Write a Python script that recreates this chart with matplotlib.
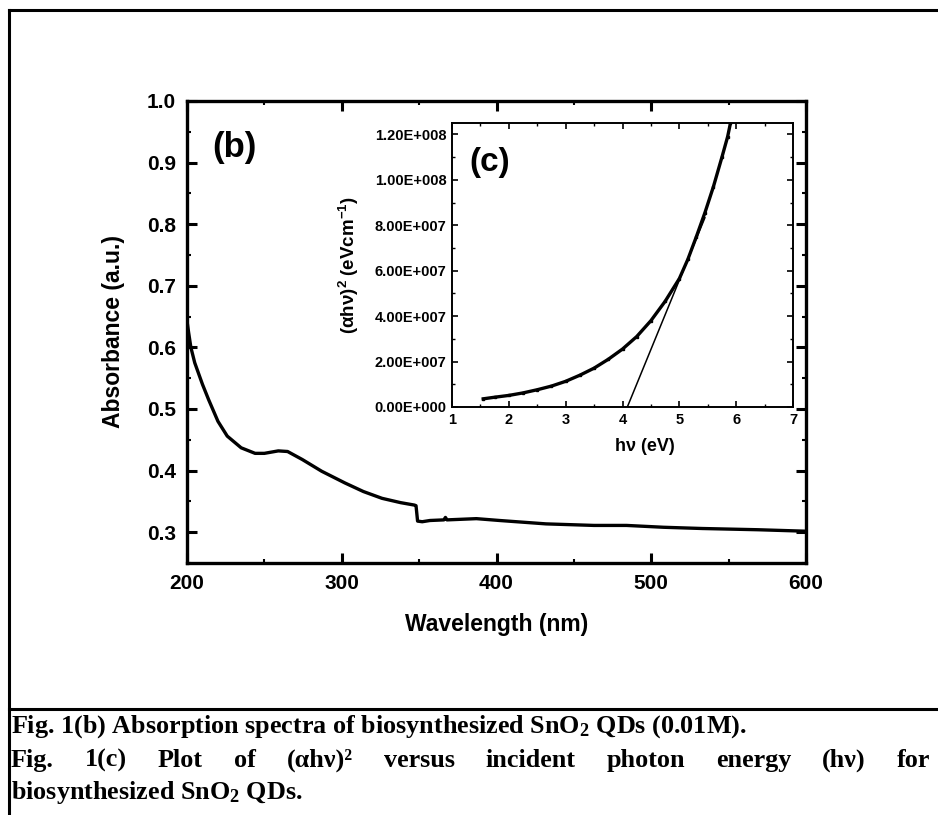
import matplotlib
matplotlib.use("Agg")
import matplotlib.pyplot as plt
from matplotlib.lines import Line2D
from matplotlib.ticker import MultipleLocator, FuncFormatter

plt.rcParams['font.family'] = ['Liberation Sans', 'DejaVu Sans']
plt.rcParams['font.weight'] = 'bold'
plt.rcParams['mathtext.fontset'] = 'custom'
plt.rcParams['mathtext.rm'] = 'Liberation Serif:bold'
plt.rcParams['mathtext.bf'] = 'Liberation Serif:bold'
plt.rcParams['mathtext.it'] = 'Liberation Serif:bold:italic'
plt.rcParams['mathtext.sf'] = 'Liberation Sans:bold'
plt.rcParams['mathtext.default'] = 'rm'

# absorption spectrum (b)
wavelength = [200, 201, 202.5, 205, 210, 214, 220, 226, 235, 244, 250, 259, 265,
              274.5, 287, 302, 314, 326, 338, 347, 348, 349, 352, 357, 366, 367,
              368, 387, 402, 432, 463, 484, 508, 533, 569, 600]
absorbance = [0.643, 0.625, 0.600, 0.575, 0.540, 0.515, 0.480, 0.456, 0.437, 0.428,
              0.428, 0.432, 0.431, 0.418, 0.399, 0.380, 0.366, 0.355, 0.348, 0.344,
              0.343, 0.318, 0.317, 0.319, 0.320, 0.324, 0.320, 0.322, 0.319, 0.3135,
              0.311, 0.311, 0.308, 0.306, 0.304, 0.3016]

# Tauc plot (c)
hv = [1.55, 1.75, 2.0, 2.25, 2.5, 2.75, 3.0, 3.25, 3.5, 3.75, 4.0, 4.25, 4.5,
      4.75, 5.0, 5.15, 5.3, 5.45, 5.6, 5.75, 5.85, 5.9]
ahv2 = [3.6e6, 4.3e6, 5.1e6, 6.2e6, 7.6e6, 9.2e6, 1.13e7, 1.40e7, 1.71e7, 2.10e7,
        2.55e7, 3.10e7, 3.80e7, 4.65e7, 5.65e7, 6.5e7, 7.5e7, 8.55e7, 9.7e7,
        1.10e8, 1.19e8, 1.25e8]
fit_hv = [4.085, 5.45]
fit_y = [0.0, 8.33e7]

caption1 = r"Fig. 1(b) Absorption spectra of biosynthesized SnO$_{2}$ QDs (0.01M)."
caption2 = ["Fig.", "1(c)", "Plot", "of", "(αhν)²", "versus", "incident",
            "photon", "energy", "(hν)", "for"]
caption3 = r"biosynthesized SnO$_{2}$ QDs."

W, H = 938, 815
fig = plt.figure(figsize=(W / 100, H / 100), dpi=100)

# page frame
fig.add_artist(Line2D([9 / W, 1], [1 - 10 / H, 1 - 10 / H], color='black', lw=2.2,
                      transform=fig.transFigure))
fig.add_artist(Line2D([9 / W, 9 / W], [0, 1 - 10 / H], color='black', lw=2.2,
                      transform=fig.transFigure))
fig.add_artist(Line2D([9 / W, 1], [1 - 709 / H, 1 - 709 / H], color='black', lw=2.2,
                      transform=fig.transFigure))

# main panel
ax = fig.add_axes([187 / W, 1 - 563 / H, (806 - 187) / W, (563 - 101) / H])
ax.plot(wavelength, absorbance, color='black', lw=2.4)
ax.set_xlim(200, 600)
ax.set_ylim(0.25, 1.0)
ax.xaxis.set_major_locator(MultipleLocator(100))
ax.xaxis.set_minor_locator(MultipleLocator(50))
ax.yaxis.set_minor_locator(MultipleLocator(0.05))
ax.set_yticks([0.3, 0.4, 0.5, 0.6, 0.7, 0.8, 0.9, 1.0])
ax.yaxis.set_major_formatter(FuncFormatter(lambda v, p: f"{v:.1f}"))
for s in ax.spines.values():
    s.set_linewidth(2.4)
ax.tick_params(which='both', direction='in', top=True, right=True)
ax.tick_params(which='major', length=7, width=2.2, labelsize=15, pad=8)
ax.tick_params(which='minor', length=3, width=1.5)
ax.set_xlabel("Wavelength (nm)", fontsize=16.5, fontweight='bold', labelpad=14)
ax.set_ylabel("Absorbance (a.u.)", fontsize=16.5, fontweight='bold', labelpad=16)
ax.text(212 / W, 1 - 148 / H, "(b)", transform=fig.transFigure, fontsize=25,
        fontweight='bold', va='center', ha='left')

# inset panel
ins = fig.add_axes([452 / W, 1 - 407 / H, (793 - 452) / W, (407 - 123) / H])
ins.plot(hv, ahv2, color='black', lw=2.4, marker='s', markersize=1.6)
ins.plot(fit_hv, fit_y, color='black', lw=1.1)
ins.set_xlim(1, 7)
ins.set_ylim(0, 1.25e8)
ins.xaxis.set_major_locator(MultipleLocator(1))
ins.xaxis.set_minor_locator(MultipleLocator(0.5))
ins.yaxis.set_major_locator(MultipleLocator(2e7))
ins.yaxis.set_minor_locator(MultipleLocator(1e7))


def sci_label(v, pos):
    if v == 0:
        return "0.00E+000"
    exp = 0
    m = v
    while abs(m) >= 10:
        m /= 10
        exp += 1
    return f"{m:.2f}E+{exp:03d}"


ins.yaxis.set_major_formatter(FuncFormatter(sci_label))
for s in ins.spines.values():
    s.set_linewidth(1.4)
ins.tick_params(which='both', direction='in', top=True, right=True)
ins.tick_params(which='major', length=4, width=1.2, labelsize=10.5, pad=4)
ins.tick_params(which='minor', length=2, width=1.0)
ins.set_xlabel("hν (eV)", fontsize=13, fontweight='bold', labelpad=8)
ins.xaxis.label.set_x(0.566)
ins.set_ylabel(r"$\mathsf{(\alpha h\nu)^2\ (eVcm^{-1})}$", fontsize=13.5, labelpad=10)
ins.text(469 / W, 1 - 163 / H, "(c)", transform=fig.transFigure, fontsize=24,
         fontweight='bold', va='center', ha='left')

# caption
cap = dict(family='Liberation Serif', fontweight='bold', fontsize=18.8,
           transform=fig.transFigure, va='baseline', ha='left')
fig.text(11 / W, 1 - 733 / H, caption1, **cap)
fig.text(11 / W, 1 - 799 / H, caption3, **cap)

renderer = fig.canvas.get_renderer()
words = [fig.text(0, 1 - 767 / H, w, **cap) for w in caption2]
widths = [t.get_window_extent(renderer).width for t in words]
x0, x1 = 11, 930
gap = (x1 - x0 - sum(widths)) / (len(words) - 1)
x = x0
for t, w in zip(words, widths):
    t.set_x(x / W)
    x += w + gap

fig.savefig("out.png", dpi=100)
